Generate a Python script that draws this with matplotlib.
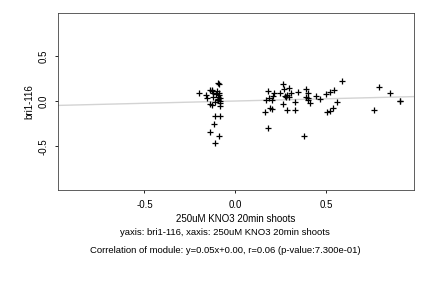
import numpy as np
import matplotlib.pyplot as plt

plt.rcParams['font.family'] = ['Liberation Sans', 'DejaVu Sans']

# values
x_vals = [-0.200, -0.161, -0.156, -0.139, -0.130, -0.124, -0.095, -0.100, -0.089, -0.109,
          -0.122, -0.096, -0.085, -0.098, -0.085, -0.113, -0.137, -0.130, -0.085, -0.082,
          -0.111, -0.084, -0.116, -0.139, -0.089, -0.111, -0.092, -0.094, -0.090, -0.128,
          0.181, 0.264, 0.214, 0.269, 0.297, 0.247, 0.306, 0.207, 0.273, 0.284,
          0.297, 0.185, 0.201, 0.166, 0.341, 0.326, 0.264, 0.192, 0.201, 0.165,
          0.286, 0.325, 0.181, 0.390, 0.401, 0.390, 0.397, 0.401, 0.412, 0.379,
          0.445, 0.462, 0.495, 0.517, 0.539, 0.556, 0.505, 0.519, 0.534, 0.584,
          0.787, 0.848, 0.905, 0.759, 0.903, 0.278]
y_vals = [0.093, 0.074, 0.040, 0.122, 0.111, 0.093, 0.200, 0.115, 0.089, 0.078,
          0.052, 0.052, 0.041, 0.015, 0.004, -0.011, -0.030, -0.041, -0.022, -0.056,
          -0.163, -0.163, -0.252, -0.341, -0.389, -0.463, 0.190, 0.030, 0.065, 0.120,
          0.115, 0.193, 0.089, 0.137, 0.148, 0.089, 0.089, 0.059, 0.059, 0.074,
          0.052, 0.037, 0.015, 0.015, 0.100, -0.004, -0.030, -0.078, -0.089, -0.119,
          -0.096, -0.096, -0.296, 0.137, 0.089, 0.052, 0.037, 0.015, -0.015, -0.385,
          0.063, 0.026, 0.081, 0.104, 0.126, -0.007, -0.119, -0.107, -0.074, 0.226,
          0.159, 0.093, 0.004, -0.096, 0.000, 0.050]
slope = 0.05
intercept = 0.003
x_ticks = [-0.5, 0.0, 0.5]
y_ticks = [-0.5, 0.0, 0.5]
x_label = "250uM KNO3 20min shoots"
y_label = "bri1-116"
line1 = "yaxis: bri1-116, xaxis: 250uM KNO3 20min shoots"
line2 = "Correlation of module: y=0.05x+0.00, r=0.06 (p-value:7.300e-01)"

fig = plt.figure(figsize=(4.32, 2.88), dpi=100)
ax = fig.add_axes([0.134, 0.340, 0.824, 0.615])

xl = (-0.975, 0.98)
xx = np.array(xl)
ax.plot(xx, slope * xx + intercept, color='#d3d3d3', lw=1, zorder=1)
ax.plot(x_vals, y_vals, '+', color='black', ms=4, mew=0.9, zorder=2)

ax.set_xlim(xl)
ax.set_ylim(-0.985, 0.98)
ax.set_xticks(x_ticks)
ax.set_xticklabels(['-0.5', '0.0', '0.5'])
ax.set_yticks(y_ticks)
ax.set_yticklabels(['-0.5', '0.0', '0.5'], rotation=90, va='center')
ax.tick_params(length=2, width=0.6, labelsize=7, pad=5, colors='black')
for s in ax.spines.values():
    s.set_linewidth(0.6)
    s.set_color('#444444')
ax.set_xlabel(x_label, fontsize=7, labelpad=3)
ax.set_ylabel(y_label, fontsize=7, labelpad=3)

fig.text(0.521, 0.192, line1, ha='center', va='center', fontsize=6.8)
fig.text(0.521, 0.130, line2, ha='center', va='center', fontsize=6.8)

fig.savefig('out.png', dpi=100)
